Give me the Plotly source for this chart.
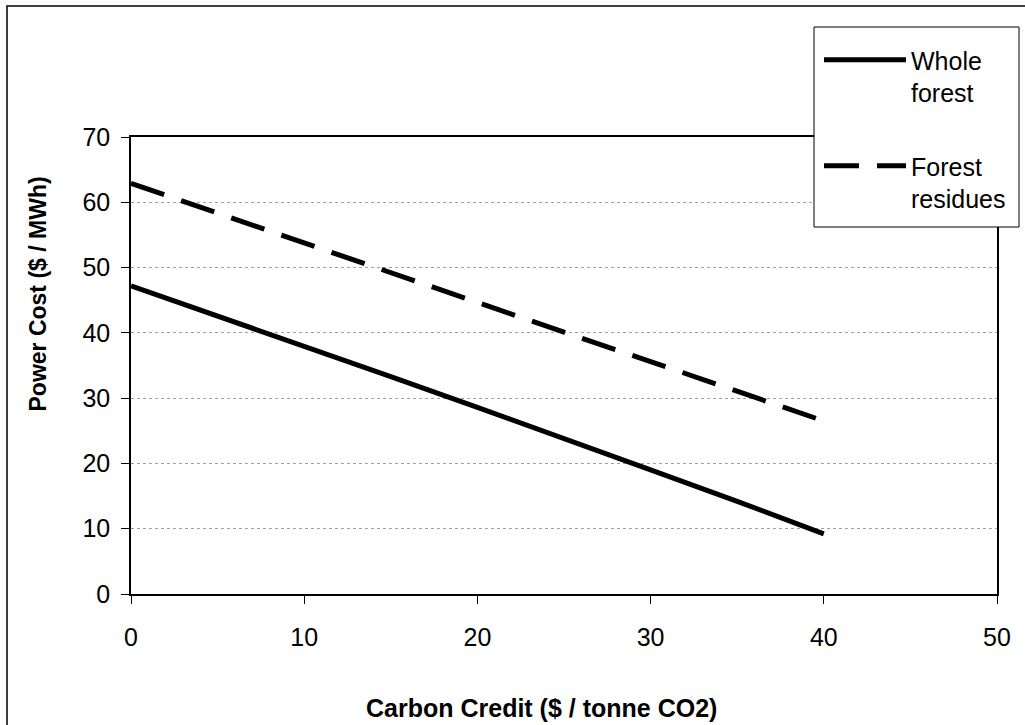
import plotly.graph_objects as go

credit = [0, 5, 10, 15, 20, 25, 30, 35, 40]
whole_forest = [47.2, 42.5, 38.0, 33.3, 28.6, 23.9, 19.0, 14.2, 9.2]
forest_residues = [62.9, 58.3, 53.8, 49.2, 44.7, 40.1, 35.6, 31.0, 26.5]
x_ticks = [0, 10, 20, 30, 40, 50]
y_ticks = [0, 10, 20, 30, 40, 50, 60, 70]

W, H = 1025, 725
L, R, T, B = 131, 28, 137, 131
pw, ph = W - L - R, H - T - B

def px(xp):
    return (xp - L) / pw

def py(yp):
    return (H - B - yp) / ph

FONT = "Liberation Sans, Arial, sans-serif"

fig = go.Figure()
fig.add_trace(go.Scatter(x=credit, y=whole_forest, mode="lines",
                         name="Whole<br>forest", legendgroup="a",
                         line=dict(color="black", width=5)))
fig.add_trace(go.Scatter(x=credit, y=forest_residues, mode="lines",
                         name="Forest<br>residues", legendgroup="b",
                         line=dict(color="black", width=5, dash="35px,18px")))

axis_common = dict(showline=True, linecolor="black", linewidth=1.5, mirror=True,
                   ticks="outside", ticklen=8, tickcolor="black", tickwidth=1,
                   tickfont=dict(family=FONT, size=25, color="black"),
                   zeroline=False)

fig.update_xaxes(range=[0, 50], tickvals=x_ticks, showgrid=False,
                 ticklabelstandoff=12, **axis_common)
fig.update_yaxes(range=[0, 70], tickvals=y_ticks, showgrid=True,
                 gridcolor="#a0a0a0", gridwidth=1, griddash="dot",
                 ticklabelstandoff=6, **axis_common)

fig.add_annotation(text="<b>Carbon Credit ($ / tonne CO2)</b>", xref="paper", yref="paper",
                   x=px(541.5), y=py(708), showarrow=False, xanchor="center", yanchor="middle",
                   font=dict(family=FONT, size=25, color="black"))
fig.add_annotation(text="<b>Power Cost ($ / MWh)</b>", xref="paper", yref="paper",
                   x=px(37), y=py(294.5), showarrow=False, textangle=-90,
                   xanchor="center", yanchor="middle",
                   font=dict(family=FONT, size=23, color="black"))

# outer chart border (only top/left edges visible in frame)
fig.add_shape(type="rect", xref="paper", yref="paper",
              x0=px(7), y0=py(760), x1=px(1060), y1=py(6),
              line=dict(color="black", width=1.5), layer="below")
# legend box
fig.add_shape(type="rect", xref="paper", yref="paper",
              x0=px(814), y0=py(227), x1=px(1019), y1=py(27),
              line=dict(color="black", width=1), fillcolor="white", layer="above")

fig.update_layout(
    width=W, height=H,
    margin=dict(l=L, r=R, t=T, b=B),
    paper_bgcolor="white", plot_bgcolor="white",
    font=dict(family=FONT, color="black"),
    legend=dict(x=px(819), y=py(37), xanchor="left", yanchor="top",
                bgcolor="rgba(0,0,0,0)", borderwidth=0,
                font=dict(family=FONT, size=25, color="black"),
                valign="top", itemwidth=82, tracegroupgap=38,
                itemclick=False),
    showlegend=True,
)

fig.write_html("out.html")
